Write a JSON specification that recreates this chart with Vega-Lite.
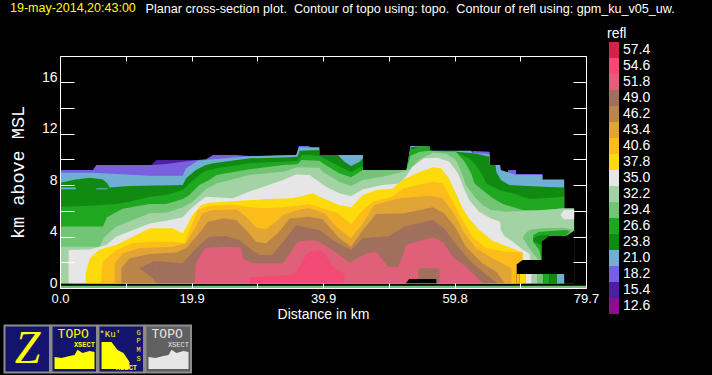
{"$schema":"https://vega.github.io/schema/vega-lite/v6.json","width":526,"height":232,"autosize":{"type":"none"},"padding":{"left":60,"top":56,"right":126,"bottom":87},"background":"#000000","title":{"text":"19-may-2014,20:43:00","color":"#ffff00","font":"Liberation Sans","fontSize":12.5,"fontWeight":"normal","anchor":"start","frame":"group","dx":-50,"offset":-12},"config":{"view":{"stroke":null}},"resolve":{"axis":{"x":"independent","y":"independent"}},"layer":[{"data":{"values":[
{"b":"15.4","s":"a","x":13.8,"y":9.56},{"b":"15.4","s":"a","x":14.6,"y":9.95},{"b":"15.4","s":"a","x":20.9,"y":9.95},
{"b":"18.2","s":"a","x":0,"y":9.17},{"b":"18.2","s":"a","x":5,"y":9.17},{"b":"18.2","s":"a","x":5.5,"y":9.56},{"b":"18.2","s":"a","x":13.8,"y":9.56},{"b":"18.2","s":"a","x":16.1,"y":9.63},{"b":"18.2","s":"a","x":18.6,"y":9.82},{"b":"18.2","s":"a","x":20.9,"y":9.95},{"b":"18.2","s":"a","x":22.1,"y":10},{"b":"18.2","s":"a","x":23.2,"y":10.33},{"b":"18.2","s":"a","x":26.7,"y":10.33},{"b":"18.2","s":"a","x":28.7,"y":10.26},{"b":"18.2","s":"a","x":35.8,"y":10.33},{"b":"18.2","s":"a","x":36.2,"y":11.03},{"b":"18.2","s":"a","x":37.8,"y":11.03},
{"b":"18.2","s":"b","x":62.5,"y":10.64},{"b":"18.2","s":"b","x":65.1,"y":10.59},
{"b":"18.2","s":"c","x":67.9,"y":9.17},{"b":"18.2","s":"c","x":69.1,"y":9.17},{"b":"18.2","s":"c","x":69.1,"y":8.86},{"b":"18.2","s":"c","x":73.1,"y":8.86},
{"b":"21.0","s":"a","x":0,"y":8.96},{"b":"21.0","s":"a","x":5,"y":8.96},{"b":"21.0","s":"a","x":13.6,"y":8.73},{"b":"21.0","s":"a","x":18.6,"y":8.73},{"b":"21.0","s":"a","x":19.1,"y":9.3},{"b":"21.0","s":"a","x":20.9,"y":9.89},{"b":"21.0","s":"a","x":23.2,"y":10},{"b":"21.0","s":"a","x":28.7,"y":10.23},{"b":"21.0","s":"a","x":35.8,"y":10.33},{"b":"21.0","s":"a","x":36.2,"y":10.93},{"b":"21.0","s":"a","x":39.3,"y":10.93},{"b":"21.0","s":"a","x":39.3,"y":10.33},{"b":"21.0","s":"a","x":45.9,"y":10.33},{"b":"21.0","s":"a","x":45.9,"y":9.17},{"b":"21.0","s":"a","x":52.5,"y":9.17},{"b":"21.0","s":"a","x":53.1,"y":11.03},{"b":"21.0","s":"a","x":56,"y":11.03},{"b":"21.0","s":"a","x":56,"y":10.67},{"b":"21.0","s":"a","x":62.3,"y":10.67},{"b":"21.0","s":"a","x":62.5,"y":10.52},{"b":"21.0","s":"a","x":65.1,"y":10.4},{"b":"21.0","s":"a","x":65.1,"y":9.56},{"b":"21.0","s":"a","x":66.7,"y":9.56},{"b":"21.0","s":"a","x":66.8,"y":9.17},{"b":"21.0","s":"a","x":69.1,"y":8.78},{"b":"21.0","s":"a","x":73.1,"y":8.78},{"b":"21.0","s":"a","x":73.1,"y":8.44},{"b":"21.0","s":"a","x":76.4,"y":8.44},
{"b":"23.8","s":"a","x":0,"y":8.18},{"b":"23.8","s":"a","x":2.4,"y":8.44},{"b":"23.8","s":"a","x":4.5,"y":8.57},{"b":"23.8","s":"a","x":6.5,"y":8.44},{"b":"23.8","s":"a","x":7.2,"y":8.13},{"b":"23.8","s":"a","x":7.5,"y":7.82},{"b":"23.8","s":"a","x":10.5,"y":7.93},{"b":"23.8","s":"a","x":18.6,"y":8},{"b":"23.8","s":"a","x":19.1,"y":8.52},{"b":"23.8","s":"a","x":20.6,"y":9.17},{"b":"23.8","s":"a","x":22.1,"y":9.56},{"b":"23.8","s":"a","x":23.2,"y":9.69},{"b":"23.8","s":"a","x":28.7,"y":10.08},{"b":"23.8","s":"a","x":33.8,"y":10.15},{"b":"23.8","s":"a","x":36,"y":10.2},{"b":"23.8","s":"a","x":36.3,"y":10.67},{"b":"23.8","s":"a","x":39.3,"y":10.72},{"b":"23.8","s":"a","x":39.3,"y":10.33},{"b":"23.8","s":"a","x":42.1,"y":10.33},{"b":"23.8","s":"a","x":43.1,"y":9.82},{"b":"23.8","s":"a","x":44.1,"y":9.48},{"b":"23.8","s":"a","x":45.4,"y":9.82},{"b":"23.8","s":"a","x":45.9,"y":10.08},{"b":"23.8","s":"a","x":45.9,"y":9.17},{"b":"23.8","s":"a","x":52.5,"y":9.17},{"b":"23.8","s":"a","x":53.2,"y":10.95},{"b":"23.8","s":"a","x":56,"y":11.03},{"b":"23.8","s":"a","x":56,"y":10.67},{"b":"23.8","s":"a","x":60,"y":10.59},{"b":"23.8","s":"a","x":63,"y":10.46},{"b":"23.8","s":"a","x":65.1,"y":10.2},{"b":"23.8","s":"a","x":65.1,"y":9.56},{"b":"23.8","s":"a","x":66,"y":9.56},{"b":"23.8","s":"a","x":66.1,"y":9.04},{"b":"23.8","s":"a","x":66.8,"y":8.39},{"b":"23.8","s":"a","x":68.1,"y":8},{"b":"23.8","s":"a","x":73.1,"y":7.87},{"b":"23.8","s":"a","x":76.4,"y":7.82},
{"b":"26.6","s":"a","x":0,"y":6.32},{"b":"26.6","s":"a","x":3.5,"y":6.37},{"b":"26.6","s":"a","x":8.5,"y":6.53},{"b":"26.6","s":"a","x":10.5,"y":6.71},{"b":"26.6","s":"a","x":13.6,"y":7.1},{"b":"26.6","s":"a","x":16.1,"y":7.23},{"b":"26.6","s":"a","x":18.6,"y":7.61},{"b":"26.6","s":"a","x":19.6,"y":8.13},{"b":"26.6","s":"a","x":21.1,"y":8.78},{"b":"26.6","s":"a","x":22.1,"y":9.12},{"b":"26.6","s":"a","x":23.7,"y":9.3},{"b":"26.6","s":"a","x":28.7,"y":9.69},{"b":"26.6","s":"a","x":33.8,"y":9.82},{"b":"26.6","s":"a","x":36,"y":9.89},{"b":"26.6","s":"a","x":36.6,"y":10.33},{"b":"26.6","s":"a","x":37.8,"y":10.33},{"b":"26.6","s":"a","x":39.3,"y":10.26},{"b":"26.6","s":"a","x":40.8,"y":9.87},{"b":"26.6","s":"a","x":42.9,"y":9.3},{"b":"26.6","s":"a","x":44.1,"y":9.04},{"b":"26.6","s":"a","x":45.8,"y":9.48},{"b":"26.6","s":"a","x":45.9,"y":9.17},{"b":"26.6","s":"a","x":52.5,"y":9.17},{"b":"26.6","s":"a","x":53.1,"y":10.72},{"b":"26.6","s":"a","x":54.5,"y":10.98},{"b":"26.6","s":"a","x":56,"y":10.98},{"b":"26.6","s":"a","x":56,"y":10.67},{"b":"26.6","s":"a","x":60,"y":10.57},{"b":"26.6","s":"a","x":62,"y":10.08},{"b":"26.6","s":"a","x":63,"y":9.56},{"b":"26.6","s":"a","x":64,"y":8.78},{"b":"26.6","s":"a","x":64.6,"y":8.13},{"b":"26.6","s":"a","x":66.6,"y":7.61},{"b":"26.6","s":"a","x":68.6,"y":7.36},{"b":"26.6","s":"a","x":71.1,"y":6.92},{"b":"26.6","s":"a","x":73.1,"y":6.97},{"b":"26.6","s":"a","x":76.4,"y":7.1},
{"b":"29.4","s":"a","x":0,"y":4.77},{"b":"29.4","s":"a","x":6.5,"y":4.77},{"b":"29.4","s":"a","x":7.1,"y":5.49},{"b":"29.4","s":"a","x":9.5,"y":6.16},{"b":"29.4","s":"a","x":13.6,"y":6.53},{"b":"29.4","s":"a","x":16.1,"y":6.53},{"b":"29.4","s":"a","x":18.6,"y":6.92},{"b":"29.4","s":"a","x":19.6,"y":7.23},{"b":"29.4","s":"a","x":21.1,"y":8},{"b":"29.4","s":"a","x":22.6,"y":8.39},{"b":"29.4","s":"a","x":23.7,"y":8.78},{"b":"29.4","s":"a","x":28.7,"y":9.22},{"b":"29.4","s":"a","x":33.8,"y":9.56},{"b":"29.4","s":"a","x":36,"y":9.61},{"b":"29.4","s":"a","x":36.6,"y":9.95},{"b":"29.4","s":"a","x":39.3,"y":9.89},{"b":"29.4","s":"a","x":39.8,"y":9.69},{"b":"29.4","s":"a","x":42.3,"y":8.91},{"b":"29.4","s":"a","x":44.1,"y":8.6},{"b":"29.4","s":"a","x":45.9,"y":9.17},{"b":"29.4","s":"a","x":52.5,"y":9.17},{"b":"29.4","s":"a","x":53.1,"y":10.26},{"b":"29.4","s":"a","x":54.5,"y":10.59},{"b":"29.4","s":"a","x":56,"y":10.67},{"b":"29.4","s":"a","x":60,"y":10.57},{"b":"29.4","s":"a","x":61.3,"y":9.82},{"b":"29.4","s":"a","x":62.3,"y":8.91},{"b":"29.4","s":"a","x":62.8,"y":8.13},{"b":"29.4","s":"a","x":64,"y":7.61},{"b":"29.4","s":"a","x":65.6,"y":6.97},{"b":"29.4","s":"a","x":67.1,"y":6.53},{"b":"29.4","s":"a","x":70.1,"y":6.06},{"b":"29.4","s":"a","x":72.6,"y":6.01},{"b":"29.4","s":"a","x":76.4,"y":6.19},
{"b":"32.2","s":"a","x":0,"y":3.21},{"b":"32.2","s":"a","x":6,"y":3.21},{"b":"32.2","s":"a","x":6.7,"y":3.94},{"b":"32.2","s":"a","x":8.5,"y":4.77},{"b":"32.2","s":"a","x":13.6,"y":5.8},{"b":"32.2","s":"a","x":16.1,"y":5.85},{"b":"32.2","s":"a","x":18.6,"y":6.27},{"b":"32.2","s":"a","x":20.1,"y":6.71},{"b":"32.2","s":"a","x":22.1,"y":7.67},{"b":"32.2","s":"a","x":23.7,"y":8.13},{"b":"32.2","s":"a","x":28.7,"y":8.78},{"b":"32.2","s":"a","x":33.8,"y":9.04},{"b":"32.2","s":"a","x":36,"y":9.38},{"b":"32.2","s":"a","x":39.3,"y":9.35},{"b":"32.2","s":"a","x":39.8,"y":9.04},{"b":"32.2","s":"a","x":42.3,"y":8.26},{"b":"32.2","s":"a","x":44.1,"y":7.93},{"b":"32.2","s":"a","x":45.9,"y":8.39},{"b":"32.2","s":"a","x":48.9,"y":8.65},{"b":"32.2","s":"a","x":51.9,"y":9.04},{"b":"32.2","s":"a","x":53,"y":9.22},{"b":"32.2","s":"a","x":54.5,"y":10},{"b":"32.2","s":"a","x":56.5,"y":10.52},{"b":"32.2","s":"a","x":58.5,"y":10.46},{"b":"32.2","s":"a","x":60,"y":9.95},{"b":"32.2","s":"a","x":60.8,"y":9.04},{"b":"32.2","s":"a","x":61.5,"y":8},{"b":"32.2","s":"a","x":62.8,"y":7.1},{"b":"32.2","s":"a","x":64,"y":6.45},{"b":"32.2","s":"a","x":65.3,"y":6.06},{"b":"32.2","s":"a","x":67.6,"y":5.93},{"b":"32.2","s":"a","x":70.1,"y":5.98},{"b":"32.2","s":"a","x":73.1,"y":6.06},{"b":"32.2","s":"a","x":76.4,"y":6.19},{"b":"32.2","s":"a","x":77.9,"y":6.19},
{"b":"35.0","s":"a","x":1.3,"y":0.36},{"b":"35.0","s":"a","x":1.3,"y":2.95},{"b":"35.0","s":"a","x":4.5,"y":3},{"b":"35.0","s":"a","x":7,"y":3.34},{"b":"35.0","s":"a","x":8.5,"y":3.99},{"b":"35.0","s":"a","x":13.6,"y":5.02},{"b":"35.0","s":"a","x":16.1,"y":5.23},{"b":"35.0","s":"a","x":18.6,"y":5.49},{"b":"35.0","s":"a","x":19.6,"y":6.06},{"b":"35.0","s":"a","x":21.1,"y":6.71},{"b":"35.0","s":"a","x":22.1,"y":7.1},{"b":"35.0","s":"a","x":26.2,"y":6.97},{"b":"35.0","s":"a","x":28.7,"y":7.49},{"b":"35.0","s":"a","x":33.8,"y":8.39},{"b":"35.0","s":"a","x":35.8,"y":8.83},{"b":"35.0","s":"a","x":37.8,"y":8.78},{"b":"35.0","s":"a","x":40.3,"y":7.87},{"b":"35.0","s":"a","x":42.3,"y":7.36},{"b":"35.0","s":"a","x":44.1,"y":7.15},{"b":"35.0","s":"a","x":45.9,"y":7.67},{"b":"35.0","s":"a","x":48.9,"y":8},{"b":"35.0","s":"a","x":51.4,"y":8.13},{"b":"35.0","s":"a","x":52.4,"y":8.65},{"b":"35.0","s":"a","x":53.4,"y":9.43},{"b":"35.0","s":"a","x":55.2,"y":10.08},{"b":"35.0","s":"a","x":57.2,"y":10.13},{"b":"35.0","s":"a","x":59,"y":9.82},{"b":"35.0","s":"a","x":60.3,"y":8.91},{"b":"35.0","s":"a","x":61.3,"y":7.61},{"b":"35.0","s":"a","x":62,"y":6.84},{"b":"35.0","s":"a","x":63.5,"y":5.93},{"b":"35.0","s":"a","x":65.3,"y":5.41},{"b":"35.0","s":"a","x":66.7,"y":5.15},{"b":"35.0","s":"a","x":66.8,"y":4.51},{"b":"35.0","s":"a","x":67.3,"y":4.04},{"b":"35.0","s":"a","x":68.6,"y":3.6},{"b":"35.0","s":"a","x":70.1,"y":3},{"b":"35.0","s":"a","x":71.2,"y":2.64},
{"b":"37.8","s":"a","x":3.9,"y":0.36},{"b":"37.8","s":"a","x":3.9,"y":1.14},{"b":"37.8","s":"a","x":4.5,"y":2.3},{"b":"37.8","s":"a","x":6,"y":3},{"b":"37.8","s":"a","x":8.5,"y":3.34},{"b":"37.8","s":"a","x":11,"y":3.99},{"b":"37.8","s":"a","x":13.6,"y":4.64},{"b":"37.8","s":"a","x":17.1,"y":4.64},{"b":"37.8","s":"a","x":18.6,"y":4.25},{"b":"37.8","s":"a","x":20.1,"y":5.67},{"b":"37.8","s":"a","x":21.4,"y":6.45},{"b":"37.8","s":"a","x":22.6,"y":6.63},{"b":"37.8","s":"a","x":26.7,"y":6.76},{"b":"37.8","s":"a","x":30.7,"y":6.89},{"b":"37.8","s":"a","x":35.3,"y":6.97},{"b":"37.8","s":"a","x":38.3,"y":7.36},{"b":"37.8","s":"a","x":39.8,"y":6.97},{"b":"37.8","s":"a","x":42.3,"y":6.45},{"b":"37.8","s":"a","x":44.1,"y":6.27},{"b":"37.8","s":"a","x":45.9,"y":7.23},{"b":"37.8","s":"a","x":47.9,"y":7.61},{"b":"37.8","s":"a","x":50.4,"y":7.74},{"b":"37.8","s":"a","x":51.9,"y":8.39},{"b":"37.8","s":"a","x":54,"y":8.91},{"b":"37.8","s":"a","x":56.5,"y":9.38},{"b":"37.8","s":"a","x":57.7,"y":9.3},{"b":"37.8","s":"a","x":58.8,"y":8.65},{"b":"37.8","s":"a","x":60,"y":7.36},{"b":"37.8","s":"a","x":61,"y":6.19},{"b":"37.8","s":"a","x":62,"y":5.41},{"b":"37.8","s":"a","x":63.5,"y":4.51},{"b":"37.8","s":"a","x":65.6,"y":3.65},{"b":"37.8","s":"a","x":68.1,"y":3.16},{"b":"37.8","s":"a","x":70.1,"y":2.75},
{"b":"40.6","s":"a","x":6.2,"y":0.36},{"b":"40.6","s":"a","x":6.5,"y":2.05},{"b":"40.6","s":"a","x":8.5,"y":2.95},{"b":"40.6","s":"a","x":11,"y":3.47},{"b":"40.6","s":"a","x":13.6,"y":3.6},{"b":"40.6","s":"a","x":17.1,"y":3.6},{"b":"40.6","s":"a","x":18.9,"y":3.47},{"b":"40.6","s":"a","x":19.6,"y":4.51},{"b":"40.6","s":"a","x":20.9,"y":6.06},{"b":"40.6","s":"a","x":22.6,"y":6.42},{"b":"40.6","s":"a","x":26.7,"y":6.45},{"b":"40.6","s":"a","x":28.7,"y":6.27},{"b":"40.6","s":"a","x":31.2,"y":6.19},{"b":"40.6","s":"a","x":33.8,"y":6.27},{"b":"40.6","s":"a","x":36.8,"y":6.45},{"b":"40.6","s":"a","x":37.8,"y":6.53},{"b":"40.6","s":"a","x":39.8,"y":6.19},{"b":"40.6","s":"a","x":42.1,"y":5.8},{"b":"40.6","s":"a","x":44.1,"y":4.97},{"b":"40.6","s":"a","x":45.9,"y":6.06},{"b":"40.6","s":"a","x":47.4,"y":6.71},{"b":"40.6","s":"a","x":50.4,"y":7.1},{"b":"40.6","s":"a","x":51.9,"y":7.74},{"b":"40.6","s":"a","x":56.5,"y":8.26},{"b":"40.6","s":"a","x":58,"y":8.13},{"b":"40.6","s":"a","x":59.5,"y":6.71},{"b":"40.6","s":"a","x":61,"y":5.28},{"b":"40.6","s":"a","x":62.5,"y":3.99},{"b":"40.6","s":"a","x":64.6,"y":3.08},{"b":"40.6","s":"a","x":67.6,"y":2.82},{"b":"40.6","s":"a","x":70.1,"y":2.75},
{"b":"43.4","s":"a","x":8.3,"y":0.36},{"b":"43.4","s":"a","x":8.3,"y":1.92},{"b":"43.4","s":"a","x":9.5,"y":2.69},{"b":"43.4","s":"a","x":12,"y":3.08},{"b":"43.4","s":"a","x":17.1,"y":3.21},{"b":"43.4","s":"a","x":19.1,"y":3.47},{"b":"43.4","s":"a","x":20.6,"y":4.77},{"b":"43.4","s":"a","x":21.6,"y":5.8},{"b":"43.4","s":"a","x":23.2,"y":6.06},{"b":"43.4","s":"a","x":26.7,"y":6.11},{"b":"43.4","s":"a","x":28.2,"y":5.54},{"b":"43.4","s":"a","x":29.7,"y":4.71},{"b":"43.4","s":"a","x":31.2,"y":4.56},{"b":"43.4","s":"a","x":32.7,"y":5.15},{"b":"43.4","s":"a","x":33.8,"y":5.67},{"b":"43.4","s":"a","x":36.3,"y":6.11},{"b":"43.4","s":"a","x":37.8,"y":6.19},{"b":"43.4","s":"a","x":40.1,"y":5.8},{"b":"43.4","s":"a","x":42.1,"y":4.64},{"b":"43.4","s":"a","x":44.1,"y":3.86},{"b":"43.4","s":"a","x":45.9,"y":5.02},{"b":"43.4","s":"a","x":47.6,"y":6.45},{"b":"43.4","s":"a","x":51.4,"y":6.97},{"b":"43.4","s":"a","x":56,"y":7.17},{"b":"43.4","s":"a","x":58,"y":6.97},{"b":"43.4","s":"a","x":59.8,"y":5.67},{"b":"43.4","s":"a","x":61.3,"y":4.25},{"b":"43.4","s":"a","x":63,"y":3.08},{"b":"43.4","s":"a","x":65.6,"y":2.3},{"b":"43.4","s":"a","x":68.4,"y":1.53},
{"b":"46.2","s":"a","x":9.3,"y":0.36},{"b":"46.2","s":"a","x":9.3,"y":1.53},{"b":"46.2","s":"a","x":10.5,"y":2.3},{"b":"46.2","s":"a","x":13.6,"y":2.64},{"b":"46.2","s":"a","x":17.6,"y":2.75},{"b":"46.2","s":"a","x":19.1,"y":3.08},{"b":"46.2","s":"a","x":21.1,"y":4.25},{"b":"46.2","s":"a","x":22.4,"y":5.15},{"b":"46.2","s":"a","x":24.7,"y":5.41},{"b":"46.2","s":"a","x":26.7,"y":5.28},{"b":"46.2","s":"a","x":28.2,"y":4.51},{"b":"46.2","s":"a","x":29.7,"y":3.6},{"b":"46.2","s":"a","x":31.2,"y":3.47},{"b":"46.2","s":"a","x":33,"y":4.25},{"b":"46.2","s":"a","x":34.8,"y":5.41},{"b":"46.2","s":"a","x":37.8,"y":5.54},{"b":"46.2","s":"a","x":39.8,"y":5.34},{"b":"46.2","s":"a","x":42.1,"y":3.99},{"b":"46.2","s":"a","x":44.1,"y":3.21},{"b":"46.2","s":"a","x":46.1,"y":4.64},{"b":"46.2","s":"a","x":47.9,"y":5.75},{"b":"46.2","s":"a","x":52.2,"y":5.8},{"b":"46.2","s":"a","x":56.5,"y":6.27},{"b":"46.2","s":"a","x":58.2,"y":5.8},{"b":"46.2","s":"a","x":60,"y":4.64},{"b":"46.2","s":"a","x":61.5,"y":3.21},{"b":"46.2","s":"a","x":64,"y":1.92},{"b":"46.2","s":"a","x":66.1,"y":1.27},{"b":"46.2","s":"a","x":67.4,"y":0.36},
{"b":"49.0","s":"a","x":14.6,"y":2.1},{"b":"49.0","s":"a","x":18.6,"y":1.92},{"b":"49.0","s":"a","x":20.6,"y":3.08},{"b":"49.0","s":"a","x":22.6,"y":3.99},{"b":"49.0","s":"a","x":25.2,"y":4.04},{"b":"49.0","s":"a","x":27.2,"y":3.73},{"b":"49.0","s":"a","x":28.7,"y":3.08},{"b":"49.0","s":"a","x":30.2,"y":2.56},{"b":"49.0","s":"a","x":32.2,"y":2.56},{"b":"49.0","s":"a","x":33.8,"y":3.6},{"b":"49.0","s":"a","x":35.8,"y":4.9},{"b":"49.0","s":"a","x":37.8,"y":4.64},{"b":"49.0","s":"a","x":39.3,"y":4.51},{"b":"49.0","s":"a","x":41.3,"y":3.73},{"b":"49.0","s":"a","x":44.1,"y":2.95},{"b":"49.0","s":"a","x":45.9,"y":3.86},{"b":"49.0","s":"a","x":49.9,"y":4.04},{"b":"49.0","s":"a","x":52.2,"y":4.77},{"b":"49.0","s":"a","x":56.5,"y":5.28},{"b":"49.0","s":"a","x":58.2,"y":4.64},{"b":"49.0","s":"a","x":60.3,"y":3.21},{"b":"49.0","s":"a","x":62,"y":2.18},{"b":"49.0","s":"a","x":64.3,"y":1.14},{"b":"49.0","s":"a","x":66.3,"y":0.36},
{"b":"51.8","s":"a","x":20.4,"y":0.36},{"b":"51.8","s":"a","x":20.6,"y":1.92},{"b":"51.8","s":"a","x":21.9,"y":3.08},{"b":"51.8","s":"a","x":24.7,"y":3.21},{"b":"51.8","s":"a","x":27.4,"y":3.16},{"b":"51.8","s":"a","x":27.7,"y":2.3},{"b":"51.8","s":"a","x":29.2,"y":1.92},{"b":"51.8","s":"a","x":33.8,"y":1.92},{"b":"51.8","s":"a","x":36,"y":3.6},{"b":"51.8","s":"a","x":37.8,"y":3.73},{"b":"51.8","s":"a","x":39.3,"y":3.6},{"b":"51.8","s":"a","x":41.3,"y":2.95},{"b":"51.8","s":"a","x":43.9,"y":1.97},{"b":"51.8","s":"a","x":46.4,"y":2.69},{"b":"51.8","s":"a","x":47.9,"y":2.82},{"b":"51.8","s":"a","x":49.7,"y":1.66},{"b":"51.8","s":"a","x":51.2,"y":1.66},{"b":"51.8","s":"a","x":51.9,"y":2.43},{"b":"51.8","s":"a","x":52.4,"y":3.34},{"b":"51.8","s":"a","x":56.5,"y":3.94},{"b":"51.8","s":"a","x":58,"y":3.6},{"b":"51.8","s":"a","x":59.5,"y":2.43},{"b":"51.8","s":"a","x":61.5,"y":1.66},{"b":"51.8","s":"a","x":64,"y":0.41},
{"b":"54.6","s":"a","x":28.6,"y":0.36},{"b":"54.6","s":"a","x":28.7,"y":0.83},{"b":"54.6","s":"a","x":34.8,"y":1.01},{"b":"54.6","s":"a","x":35.8,"y":1.27},{"b":"54.6","s":"a","x":37.3,"y":2.56},{"b":"54.6","s":"a","x":37.8,"y":2.82},{"b":"54.6","s":"a","x":39.3,"y":2.95},{"b":"54.6","s":"a","x":40.3,"y":2.56},{"b":"54.6","s":"a","x":41.1,"y":1.79},{"b":"54.6","s":"a","x":43.1,"y":1.09}
]},"mark":{"type":"area","interpolate":"linear"},"encoding":{"x":{"field":"x","type":"quantitative","scale":{"domain":[0,79.7],"nice":false,"zero":false},"axis":{"orient":"bottom","values":[0,9.96,19.93,29.89,39.86,49.82,59.78,69.74,79.7],"labelExpr":"round(datum.value/9.9625)%2==0 ? format(datum.value,'.1f') : ''","tickSize":-5,"tickColor":"#ffffff","domainColor":"#ffffff","labelColor":"#ffffff","labelFont":"Liberation Sans","labelFontSize":13,"labelOverlap":false,"labelPadding":9,"labelFlush":false,"grid":false,"title":"Distance in km","titleColor":"#ffffff","titleFont":"Liberation Sans","titleFontSize":14,"titleFontWeight":"normal","titleX":263,"titleY":19,"zindex":1}},"y":{"field":"y","type":"quantitative","scale":{"domain":[0,18.03],"nice":false,"zero":false},"axis":{"orient":"left","values":[0,2,4,6,8,10,12,14,16],"labelExpr":"datum.value%4==0 ? format(datum.value,'d') : ''","tickSize":-14,"tickColor":"#ffffff","domainColor":"#ffffff","labelColor":"#ffffff","labelFont":"Liberation Sans","labelFontSize":14,"labelOverlap":false,"labelPadding":17,"labelOffset":-5,"grid":false,"title":"km above MSL","titleColor":"#ffffff","titleFont":"Liberation Mono","titleFontSize":18.5,"titleFontWeight":"normal","titleX":-33,"titleY":116,"zindex":1}},"y2":{"datum":0.36},"detail":{"field":"s"},"color":{"field":"b","type":"nominal","scale":{"domain":["57.4","54.6","51.8","49.0","46.2","43.4","40.6","37.8","35.0","32.2","29.4","26.6","23.8","21.0","18.2","15.4","12.6","none"],"range":["#cf2549","#f24a74","#e0607a","#a0705c","#bb8548","#e0a535","#fcbc1a","#fddb0a","#e6e6e6","#a3d3a5","#71c574","#1fa71f","#118a12","#6fb0d2","#7a5fe0","#4c1f9e","#8c0e8c","#000000"]},"legend":{"orient":"none","legendX":547,"legendY":-29,"values":["57.4","54.6","51.8","49.0","46.2","43.4","40.6","37.8","35.0","32.2","29.4","26.6","23.8","21.0","18.2","15.4","12.6"],"title":"refl","titleColor":"#ffffff","titleFont":"Liberation Sans","titleFontSize":14,"titleFontWeight":"normal","titlePadding":2,"labelColor":"#ffffff","labelFont":"Liberation Sans","labelFontSize":14,"labelOffset":2,"symbolType":"M-1,-1.6H1V1.6H-1Z","symbolSize":100,"symbolStrokeWidth":0,"symbolOpacity":1,"rowPadding":0}}}},
{"data":{"values":[
{"b":"21.0","s":"sl1","x":0,"y":7.82,"lo":7.67},{"b":"21.0","s":"sl1","x":2.4,"y":7.82,"lo":7.67},
{"b":"21.0","s":"sl2","x":5.5,"y":7.75,"lo":7.67},{"b":"21.0","s":"sl2","x":7.2,"y":7.75,"lo":7.67},
{"b":"49.0","s":"wedge","x":12,"y":1.53,"lo":1.53},{"b":"49.0","s":"wedge","x":14.1,"y":2.05,"lo":0.75},{"b":"49.0","s":"wedge","x":14.6,"y":2.1,"lo":0.36},
{"b":"49.0","s":"isle","x":54.3,"y":1.4,"lo":0.7},{"b":"49.0","s":"isle","x":54.5,"y":1.53,"lo":0.7},{"b":"49.0","s":"isle","x":57.2,"y":1.53,"lo":0.41},{"b":"49.0","s":"isle","x":57.5,"y":1.45,"lo":0.41},
{"b":"none","s":"bump","x":52.4,"y":0.36,"lo":0.36},{"b":"none","s":"bump","x":52.9,"y":0.7,"lo":0.36},{"b":"none","s":"bump","x":57,"y":0.7,"lo":0.36},{"b":"none","s":"bump","x":57.05,"y":0.36,"lo":0.36},
{"b":"29.4","s":"ring","x":70.2,"y":4.04,"lo":3.83},{"b":"29.4","s":"ring","x":70.9,"y":4.43,"lo":3.26},{"b":"29.4","s":"ring","x":71.7,"y":4.56,"lo":2.69},{"b":"29.4","s":"ring","x":72.6,"y":4.61,"lo":2.12},{"b":"29.4","s":"ring","x":73,"y":4.64,"lo":2.12},{"b":"29.4","s":"ring","x":76.2,"y":4.69,"lo":3.99},{"b":"29.4","s":"ring","x":77.9,"y":4.51,"lo":4.38},
{"b":"26.6","s":"ring","x":71.7,"y":4.12,"lo":3.6},{"b":"26.6","s":"ring","x":72.6,"y":4.38,"lo":2.95},{"b":"26.6","s":"ring","x":73,"y":4.38,"lo":2.12},{"b":"26.6","s":"ring","x":74.2,"y":4.43,"lo":3.99},{"b":"26.6","s":"ring","x":76.7,"y":4.51,"lo":4.04},{"b":"26.6","s":"ring","x":77.2,"y":4.43,"lo":4.35},
{"b":"23.8","s":"ring","x":71.7,"y":3.86,"lo":3.6},{"b":"23.8","s":"ring","x":72.4,"y":4.04,"lo":3.47},{"b":"23.8","s":"ring","x":73,"y":4.12,"lo":3.34},{"b":"23.8","s":"ring","x":74.1,"y":4.12,"lo":4.04},
{"b":"35.0","s":"lobe","x":75.9,"y":5.75,"lo":5.59},{"b":"35.0","s":"lobe","x":76.4,"y":6.06,"lo":5.34},{"b":"35.0","s":"lobe","x":77.9,"y":6.11,"lo":5.34},
{"b":"none","s":"gap","x":69.2,"y":1.84,"lo":0.36},{"b":"none","s":"gap","x":70.1,"y":2.18,"lo":0.36},{"b":"none","s":"gap","x":73,"y":2.18,"lo":0.36},{"b":"none","s":"gap","x":73,"y":3.6,"lo":0.36},{"b":"none","s":"gap","x":74.1,"y":4.04,"lo":0.36},{"b":"none","s":"gap","x":76.7,"y":4.04,"lo":0.36},{"b":"none","s":"gap","x":77.9,"y":4.45,"lo":0.36},
{"b":"40.6","s":"row","x":69.2,"y":1.09,"lo":0.36},{"b":"40.6","s":"row","x":69.6,"y":1.09,"lo":0.36},
{"b":"37.8","s":"row","x":69.6,"y":1.09,"lo":0.36},{"b":"37.8","s":"row","x":70.6,"y":1.09,"lo":0.36},
{"b":"35.0","s":"row","x":70.6,"y":1.09,"lo":0.36},{"b":"35.0","s":"row","x":71.5,"y":1.09,"lo":0.36},
{"b":"32.2","s":"row","x":71.5,"y":1.09,"lo":0.36},{"b":"32.2","s":"row","x":72.4,"y":1.09,"lo":0.36},
{"b":"29.4","s":"row","x":72.4,"y":1.09,"lo":0.36},{"b":"29.4","s":"row","x":73.2,"y":1.09,"lo":0.36},
{"b":"26.6","s":"row","x":73.2,"y":1.09,"lo":0.36},{"b":"26.6","s":"row","x":74.2,"y":1.09,"lo":0.36},
{"b":"23.8","s":"row","x":74.2,"y":1.09,"lo":0.36},{"b":"23.8","s":"row","x":75.3,"y":1.09,"lo":0.36},
{"b":"21.0","s":"row","x":75.3,"y":1.09,"lo":0.36},{"b":"21.0","s":"row","x":76.4,"y":1.09,"lo":0.36},
{"b":"29.4","s":"ground","x":0,"y":0.18,"lo":0},{"b":"29.4","s":"ground","x":79.7,"y":0.18,"lo":0}
]},"mark":{"type":"area","interpolate":"linear"},"encoding":{"x":{"field":"x","type":"quantitative","scale":{"domain":[0,79.7],"nice":false,"zero":false},"axis":{"orient":"top","values":[0,9.96,19.93,29.89,39.86,49.82,59.78,69.74,79.7],"labels":false,"tickSize":-5,"tickColor":"#ffffff","domainColor":"#ffffff","grid":false,"title":"Planar cross-section plot.\u00a0\u00a0Contour of topo using: topo.\u00a0\u00a0Contour of refl using: gpm_ku_v05_uw.","titleColor":"#ffffff","titleFont":"Liberation Sans","titleFontSize":12.6,"titleFontWeight":"normal","titleAlign":"left","titleX":85,"titleY":-41,"zindex":1}},"y":{"field":"y","type":"quantitative","scale":{"domain":[0,18.03],"nice":false,"zero":false},"axis":{"orient":"right","values":[2,4,6,8,10,12,14,16],"labels":false,"tickSize":-13,"tickColor":"#ffffff","domainColor":"#ffffff","grid":false,"title":null,"zindex":1}},"y2":{"field":"lo"},"detail":{"field":"s"},"color":{"field":"b","type":"nominal","scale":{"domain":["57.4","54.6","51.8","49.0","46.2","43.4","40.6","37.8","35.0","32.2","29.4","26.6","23.8","21.0","18.2","15.4","12.6","none"],"range":["#cf2549","#f24a74","#e0607a","#a0705c","#bb8548","#e0a535","#fcbc1a","#fddb0a","#e6e6e6","#a3d3a5","#71c574","#1fa71f","#118a12","#6fb0d2","#7a5fe0","#4c1f9e","#8c0e8c","#000000"]},"legend":null}}},
{"data":{"values":[{"x":-8.41,"x2":-1.52,"y":-2.91,"y2":-6.57},{"x":-1.29,"x2":5.61,"y":-2.91,"y2":-6.57},{"x":5.83,"x2":12.73,"y":-2.91,"y2":-6.57}]},"mark":{"type":"rect","fill":"#14146e","stroke":"#8c8c8c","strokeWidth":2},"encoding":{"x":{"field":"x","type":"quantitative","scale":{"domain":[0,79.7],"nice":false,"zero":false},"axis":null},"x2":{"field":"x2"},"y":{"field":"y","type":"quantitative","scale":{"domain":[0,18.03],"nice":false,"zero":false},"axis":null},"y2":{"field":"y2"}}},
{"data":{"values":[{"x":12.95,"x2":19.85,"y":-2.91,"y2":-6.57}]},"mark":{"type":"rect","fill":"#606060","stroke":"#8c8c8c","strokeWidth":2},"encoding":{"x":{"field":"x","type":"quantitative","scale":{"domain":[0,79.7],"nice":false,"zero":false},"axis":null},"x2":{"field":"x2"},"y":{"field":"y","type":"quantitative","scale":{"domain":[0,18.03],"nice":false,"zero":false},"axis":null},"y2":{"field":"y2"}}},
{"data":{"values":[{"g":"a","x":-0.83,"y":-5.36},{"g":"a","x":0.23,"y":-5.44},{"g":"a","x":1.44,"y":-5.28},{"g":"a","x":2.2,"y":-5.2},{"g":"a","x":2.65,"y":-4.8},{"g":"a","x":3.41,"y":-5.05},{"g":"a","x":4.47,"y":-4.9},{"g":"a","x":5.23,"y":-4.97},{"g":"b","x":6.29,"y":-4.2},{"g":"b","x":7.8,"y":-4.2},{"g":"b","x":8.71,"y":-4.82},{"g":"b","x":9.62,"y":-5.05},{"g":"b","x":10.53,"y":-5.75}]},"mark":{"type":"area","color":"#ffff00"},"encoding":{"x":{"field":"x","type":"quantitative","scale":{"domain":[0,79.7],"nice":false,"zero":false},"axis":null},"y":{"field":"y","type":"quantitative","scale":{"domain":[0,18.03],"nice":false,"zero":false},"axis":null},"y2":{"datum":-6.29},"detail":{"field":"g"}}},
{"data":{"values":[{"x":13.41,"y":-5.36},{"x":14.47,"y":-5.44},{"x":15.68,"y":-5.28},{"x":16.44,"y":-5.2},{"x":16.89,"y":-4.8},{"x":17.65,"y":-5.05},{"x":18.71,"y":-4.9},{"x":19.47,"y":-4.97}]},"mark":{"type":"area","color":"#e6e6e6"},"encoding":{"x":{"field":"x","type":"quantitative","scale":{"domain":[0,79.7],"nice":false,"zero":false},"axis":null},"y":{"field":"y","type":"quantitative","scale":{"domain":[0,18.03],"nice":false,"zero":false},"axis":null},"y2":{"datum":-6.29}}},
{"data":{"values":[{"t":"Z","x":-4.92,"y":-4.74}]},"mark":{"type":"text","color":"#ffff00","font":"Liberation Serif","fontSize":46,"fontStyle":"italic","align":"center","baseline":"middle"},"encoding":{"x":{"field":"x","type":"quantitative","scale":{"domain":[0,79.7],"nice":false,"zero":false},"axis":null},"y":{"field":"y","type":"quantitative","scale":{"domain":[0,18.03],"nice":false,"zero":false},"axis":null},"text":{"field":"t"}}},
{"data":{"values":[{"t":"TOPO","x":2.0,"y":-3.6,"z":13},{"t":"*Ku'","x":7.6,"y":-3.55,"z":9},{"t":"G","x":11.9,"y":-3.5,"z":7},{"t":"P","x":11.9,"y":-4.15,"z":7},{"t":"M","x":11.9,"y":-4.8,"z":7},{"t":"S","x":11.9,"y":-5.55,"z":7}]},"mark":{"type":"text","color":"#ffff00","font":"Liberation Mono","align":"center","baseline":"middle"},"encoding":{"x":{"field":"x","type":"quantitative","scale":{"domain":[0,79.7],"nice":false,"zero":false},"axis":null},"y":{"field":"y","type":"quantitative","scale":{"domain":[0,18.03],"nice":false,"zero":false},"axis":null},"text":{"field":"t"},"size":{"field":"z","type":"quantitative","scale":null}}},
{"data":{"values":[{"t":"XSECT","x":3.7,"y":-4.45},{"t":"XSECT","x":10.08,"y":-6.18}]},"mark":{"type":"text","color":"#ffff00","font":"Liberation Mono","fontSize":7,"fontWeight":"bold","align":"center","baseline":"middle"},"encoding":{"x":{"field":"x","type":"quantitative","scale":{"domain":[0,79.7],"nice":false,"zero":false},"axis":null},"y":{"field":"y","type":"quantitative","scale":{"domain":[0,18.03],"nice":false,"zero":false},"axis":null},"text":{"field":"t"}}},
{"data":{"values":[{"t":"TOPO","x":16.24,"y":-3.6,"z":13},{"t":"XSECT","x":17.94,"y":-4.45,"z":7}]},"mark":{"type":"text","color":"#e6e6e6","font":"Liberation Mono","align":"center","baseline":"middle"},"encoding":{"x":{"field":"x","type":"quantitative","scale":{"domain":[0,79.7],"nice":false,"zero":false},"axis":null},"y":{"field":"y","type":"quantitative","scale":{"domain":[0,18.03],"nice":false,"zero":false},"axis":null},"text":{"field":"t"},"size":{"field":"z","type":"quantitative","scale":null}}}
]}
